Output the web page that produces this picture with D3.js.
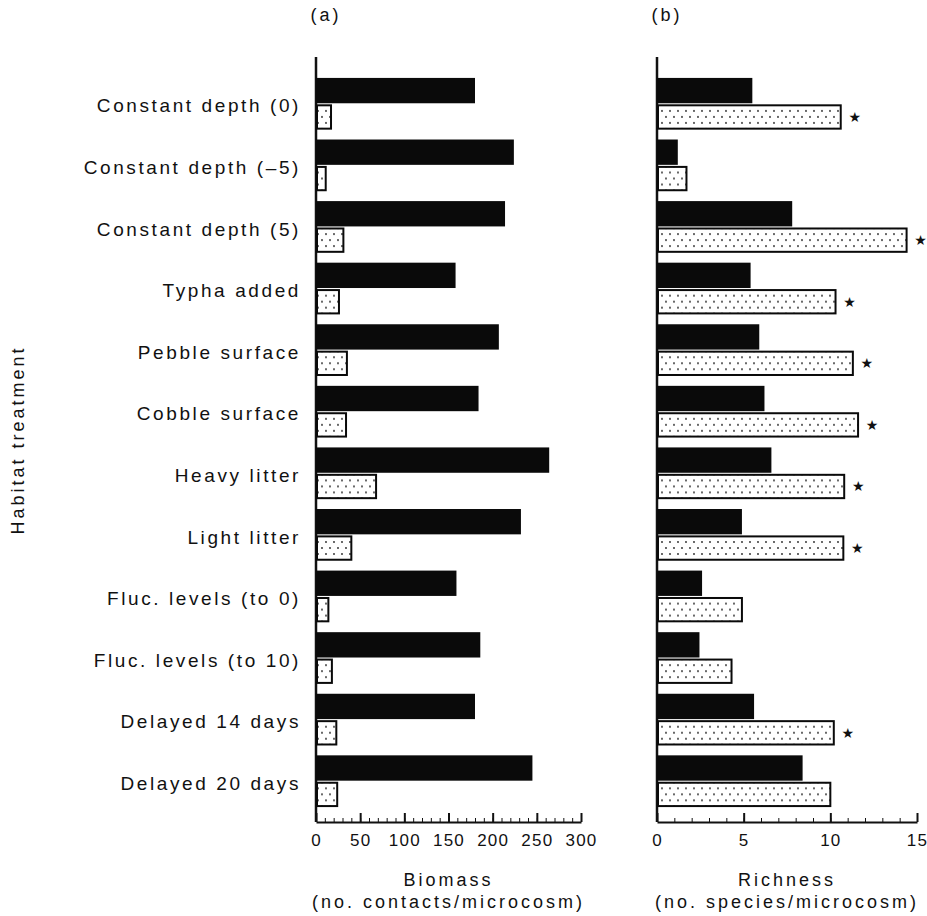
<!DOCTYPE html>
<html>
<head>
<meta charset="utf-8">
<script src="https://cdn.jsdelivr.net/npm/d3@7"></script>
<style>
  body { margin: 0; background: #fff; }
  svg text { font-family: "Liberation Sans", Arial, Helvetica, sans-serif; fill: #111; }
  .cat { font-size: 19px; letter-spacing: 2.6px; }
  .tick text { font-size: 17px; letter-spacing: 1.2px; }
  .ttl { font-size: 18px; letter-spacing: 3px; }
  .domain, .tick line { stroke: #111; }
</style>
</head>
<body>
<svg id="chart" width="927" height="916"></svg>
<script>
// habitat treatments, top to bottom
const categories = [
  'Constant depth (0)', 'Constant depth (–5)', 'Constant depth (5)', 'Typha added',
  'Pebble surface', 'Cobble surface', 'Heavy litter', 'Light litter',
  'Fluc. levels (to 0)', 'Fluc. levels (to 10)', 'Delayed 14 days', 'Delayed 20 days'
];
// (a) biomass, no. contacts/microcosm
const biomassBlack   = [180, 224, 214, 158, 207, 184, 264, 232, 159, 186, 180, 245];
const biomassStipple = [17, 11, 31, 26, 35, 34, 68, 40, 14, 18, 23, 24];
// (b) richness, no. species/microcosm
const richBlack   = [5.5, 1.2, 7.8, 5.4, 5.9, 6.2, 6.6, 4.9, 2.6, 2.45, 5.6, 8.4];
const richStipple = [10.6, 1.7, 14.4, 10.3, 11.3, 11.6, 10.8, 10.75, 4.9, 4.3, 10.2, 10.0];
const richStar    = [true, false, true, true, true, true, true, true, false, false, true, false];

const biomassTicks = [0, 50, 100, 150, 200, 250, 300];
const richTicks = [0, 5, 10, 15];

const svg = d3.select('#chart');
const axisY = 822;

// stipple fill
const pat = svg.append('defs').append('pattern')
  .attr('id', 'dots')
  .attr('patternUnits', 'userSpaceOnUse')
  .attr('width', 8).attr('height', 12);
pat.append('rect').attr('width', 8).attr('height', 12).attr('fill', '#fff');
pat.append('circle').attr('cx', 2).attr('cy', 3).attr('r', 0.9).attr('fill', '#222');
pat.append('circle').attr('cx', 6).attr('cy', 9).attr('r', 0.9).attr('fill', '#222');

const y = d3.scaleBand()
  .domain(categories)
  .range([73, 812])
  .paddingInner(0.16)
  .paddingOuter(0.08);

const inner = d3.scaleBand()
  .domain(['black', 'stipple'])
  .range([0, y.bandwidth()])
  .paddingInner(0.04);

// category labels
svg.append('g').selectAll('text')
  .data(categories)
  .enter()
  .append('text')
  .attr('class', 'cat')
  .attr('x', 301)
  .attr('y', (d) => y(d) + y.bandwidth() / 2 + 2)
  .attr('dy', '0.35em')
  .attr('text-anchor', 'end')
  .text((d) => d);

svg.append('text')
  .attr('class', 'ttl')
  .attr('transform', 'translate(24, 440) rotate(-90)')
  .attr('text-anchor', 'middle')
  .text('Habitat treatment');

function panel(x0, x1, max, ticks, minorStep, black, stipple, label, title, sub, stars) {
  const x = d3.scaleLinear().domain([0, max]).range([x0, x1]);
  const g = svg.append('g');

  // minor ticks
  g.append('g')
    .attr('transform', `translate(0, ${axisY})`)
    .call(d3.axisBottom(x).tickValues(d3.range(0, max + 0.001, minorStep)).tickSizeInner(-4).tickSizeOuter(0).tickFormat(''))
    .call((a) => a.select('.domain').attr('stroke-width', 2));

  // major ticks + labels
  g.append('g')
    .attr('transform', `translate(0, ${axisY})`)
    .call(d3.axisBottom(x).tickValues(ticks).tickSizeInner(-9).tickSizeOuter(0).tickPadding(12))
    .call((a) => a.select('.domain').remove())
    .call((a) => a.selectAll('.tick line').attr('stroke-width', 2));

  // left axis line
  g.append('line')
    .attr('x1', x(0)).attr('x2', x(0))
    .attr('y1', 57).attr('y2', axisY)
    .attr('stroke', '#111').attr('stroke-width', 2.5);

  const rows = g.selectAll('.row')
    .data(categories)
    .enter()
    .append('g')
    .attr('transform', (d) => `translate(0, ${y(d)})`);

  rows.append('rect')
    .attr('x', x(0))
    .attr('y', inner('black'))
    .attr('width', (d, i) => x(black[i]) - x(0))
    .attr('height', inner.bandwidth())
    .attr('fill', '#0a0a0a');

  rows.append('rect')
    .attr('x', x(0) + 1)
    .attr('y', inner('stipple') + 1)
    .attr('width', (d, i) => x(stipple[i]) - x(0) - 1)
    .attr('height', inner.bandwidth() - 2)
    .attr('fill', 'url(#dots)')
    .attr('stroke', '#0a0a0a')
    .attr('stroke-width', 2);

  if (stars) {
    rows.filter((d, i) => stars[i])
      .append('text')
      .attr('x', (d) => x(stipple[categories.indexOf(d)]) + 14)
      .attr('y', inner('stipple') + inner.bandwidth() / 2)
      .attr('dy', '0.35em')
      .attr('text-anchor', 'middle')
      .style('font-family', '"DejaVu Sans", sans-serif')
      .style('font-size', '14px')
      .text('★');
  }

  svg.append('text')
    .attr('class', 'ttl')
    .attr('x', x0 + 10)
    .attr('y', 21)
    .attr('text-anchor', 'middle')
    .text(label);

  const cx = (x0 + x1) / 2;
  svg.append('text').attr('class', 'ttl').attr('x', cx).attr('y', 886).attr('text-anchor', 'middle').text(title);
  svg.append('text').attr('class', 'ttl').attr('x', cx).attr('y', 908).attr('text-anchor', 'middle').text(sub);
}

panel(316, 581, 300, biomassTicks, 10, biomassBlack, biomassStipple,
  '(a)', 'Biomass', '(no. contacts/microcosm)', null);
panel(657, 917, 15, richTicks, 1, richBlack, richStipple,
  '(b)', 'Richness', '(no. species/microcosm)', richStar);
</script>
</body>
</html>
